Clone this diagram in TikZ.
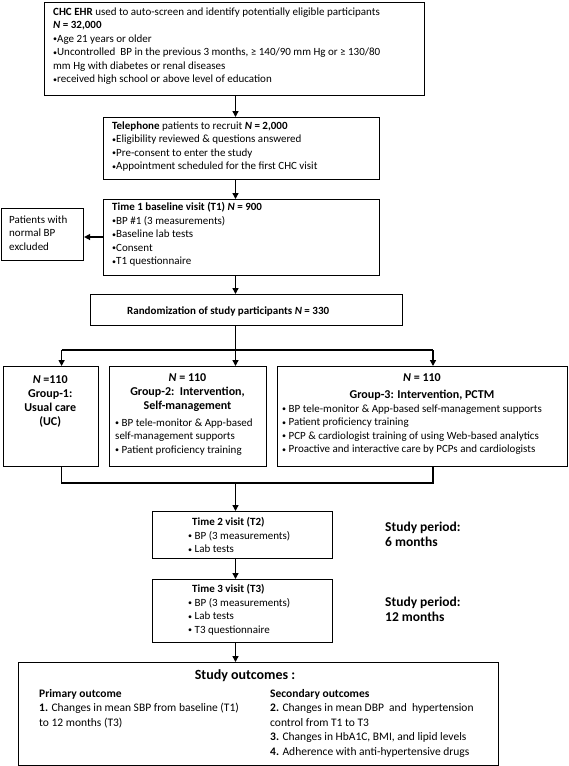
\documentclass[tikz,border=0pt]{standalone}
\usepackage{fontspec}
\setmainfont{Carlito}
\usetikzlibrary{arrows.meta,calc}
\newcommand\fa{\fontsize{11}{13.5}\selectfont}
\newcommand\fg{\fontsize{12}{14.3}\selectfont}
\newcommand\fo{\fontsize{11.5}{14.5}\selectfont}
\newcommand\fp{\fontsize{13.5}{15.5}\selectfont}
\newcommand\fq{\fontsize{14}{16}\selectfont}
\newcommand\bul{\raisebox{0.6pt}{\fontsize{8}{8}\selectfont •}}
\begin{document}
\begin{tikzpicture}[x=1pt,y=-1pt,
  box/.style={draw, line width=1.1pt, inner sep=0pt, anchor=north west},
  txt/.style={inner sep=0pt, align=left, anchor=north west, font=\fa},
  ctxt/.style={inner sep=0pt, align=center, anchor=north, font=\fg\bfseries},
  link/.style={line width=1.4pt},
  arr/.style={line width=1.4pt, -{Triangle[length=6pt,width=6pt]}}]
\useasboundingbox (0,0) rectangle (568,766);
% boxes
\node[box, minimum width=380.5pt, minimum height=93pt] (b1) at (43.5,2) {};
\node[box, minimum width=275.5pt, minimum height=62pt] (b2) at (103,117) {};
\node[box, minimum width=275.5pt, minimum height=76pt] (b3) at (103,199) {};
\node[box, minimum width=82pt, minimum height=52pt] (ex) at (1,208) {};
\node[box, minimum width=312.5pt, minimum height=31pt] (rd) at (89.5,294) {};
\node[box, minimum width=95.5pt, minimum height=100pt] (g1) at (2.5,366) {};
\node[box, minimum width=157pt, minimum height=100pt] (g2) at (109,366) {};
\node[box, minimum width=289.5pt, minimum height=100pt] (g3) at (277,366) {};
\node[box, minimum width=179.5pt, minimum height=47pt] (t2) at (152,511) {};
\node[box, minimum width=179.5pt, minimum height=63pt] (t3) at (152,579) {};
\node[box, minimum width=480pt, minimum height=103pt] (oc) at (18,662) {};
% texts
\node[txt] (b1t) at (53,7.5) {\textbf{CHC EHR} used to auto-screen and identify potentially eligible participants\\
\textbf{\textit{N} = 32,000}\\
\bul Age 21 years or older\\
\bul Uncontrolled\ \ BP in the previous 3 months, ≥ 140/90 mm Hg or ≥ 130/80\\
mm Hg with diabetes or renal diseases\\
\bul received high school or above level of education};
\node[txt] (b2t) at (112,121.5) {\textbf{Telephone} patients to recruit \textbf{\textit{N} = 2,000}\\
\bul Eligibility reviewed \& questions answered\\
\bul Pre-consent to enter the study\\
\bul Appointment scheduled for the first CHC visit};
\node[txt] (b3t) at (112,202.5) {\textbf{Time 1 baseline visit (T1) \textit{N} = 900}\\
\bul BP \#1 (3 measurements)\\
\bul Baseline lab tests\\
\bul Consent\\
\bul T1 questionnaire};
\node[txt] (ext) at (9,215.5) {Patients with\\normal BP\\excluded};
\node[txt, anchor=west] (rdt) at (127,311) {\textbf{Randomization of study participants \textit{N} = 330}};
\node[ctxt] (g1t) at (50.25,375) {\textit{N} =110\\Group-1:\\Usual care\\(UC)};
\node[ctxt] (g2h) at (187.5,373) {\textit{N} = 110\\Group-2:\ \ Intervention,\\Self-management};
\node[txt] (g2b) at (115,418.5) {\bul\ BP tele-monitor \& App-based\\self-management supports\\\bul\ Patient proficiency training};
\node[ctxt] (g3n) at (422,373) {\textit{N} = 110};
\node[ctxt] (g3h) at (422,390) {Group-3: Intervention, PCTM};
\node[txt] (g3b) at (282,404.5) {\bul\ BP tele-monitor \& App-based self-management supports\\
\bul\ Patient proficiency training\\
\bul\ PCP \& cardiologist training of using Web-based analytics\\
\bul\ Proactive and interactive care by PCPs and cardiologists};
\node[txt] (t2t) at (188,517.5) {\hspace*{4pt}\textbf{Time 2 visit (T2)}\\\bul\ BP (3 measurements)\\\bul\ Lab tests};
\node[txt] (t3t) at (188,584.5) {\hspace*{4pt}\textbf{Time 3 visit (T3)}\\\bul\ BP (3 measurements)\\\bul\ Lab tests\\\bul\ T3 questionnaire};
\node[txt, font=\fp\bfseries] (sp1) at (385,521.5) {Study period:\\6 months};
\node[txt, font=\fp\bfseries] (sp2) at (385,596.5) {Study period:\\12 months};
\node[ctxt, font=\fq\bfseries] (oct) at (245,669) {Study outcomes :};
\node[txt, font=\fo] (ocp) at (39,689) {\textbf{Primary outcome}\\\textbf{1.} Changes in mean SBP from baseline (T1)\\to 12 months (T3)};
\node[txt, font=\fo] (ocs) at (270,689) {\textbf{Secondary outcomes}\\\textbf{2.} Changes in mean DBP\ \ and\ \ hypertension\\control from T1 to T3\\\textbf{3.} Changes in HbA1C, BMI, and lipid levels\\\textbf{4.} Adherence with anti-hypertensive drugs};
% connector coordinates
\coordinate (ax) at (235.5,0);
\coordinate (exy) at (0,237);
\coordinate (sC) at (235.5,350);
\coordinate (sL) at (61.6,350);
\coordinate (sR) at (433,350);
\coordinate (mC) at (235.5,483);
\coordinate (mL) at (61.6,483);
\coordinate (mR) at (433,483);
% connectors
\draw[arr] (b1.south -| ax) -- (b2.north -| ax);
\draw[arr] (b2.south -| ax) -- (b3.north -| ax);
\draw[arr] (b3.west |- exy) -- (ex.east |- exy);
\draw[arr] (b3.south -| ax) -- (rd.north -| ax);
\draw[link] (rd.south -| ax) -- (sC);
\draw[link] (sL) -- (sR);
\draw[arr] (sL) -- (g1.north -| sL);
\draw[arr] (sC) -- (g2.north -| sC);
\draw[arr] (sR) -- (g3.north -| sR);
\draw[link] (g1.south -| mL) -- (mL) -- (mR) -- (g3.south -| mR);
\draw[arr] (mC) -- (t2.north -| mC);
\draw[arr] (t2.south -| ax) -- (t3.north -| ax);
\draw[arr] (t3.south -| ax) -- (oc.north -| ax);
\end{tikzpicture}
\end{document}
